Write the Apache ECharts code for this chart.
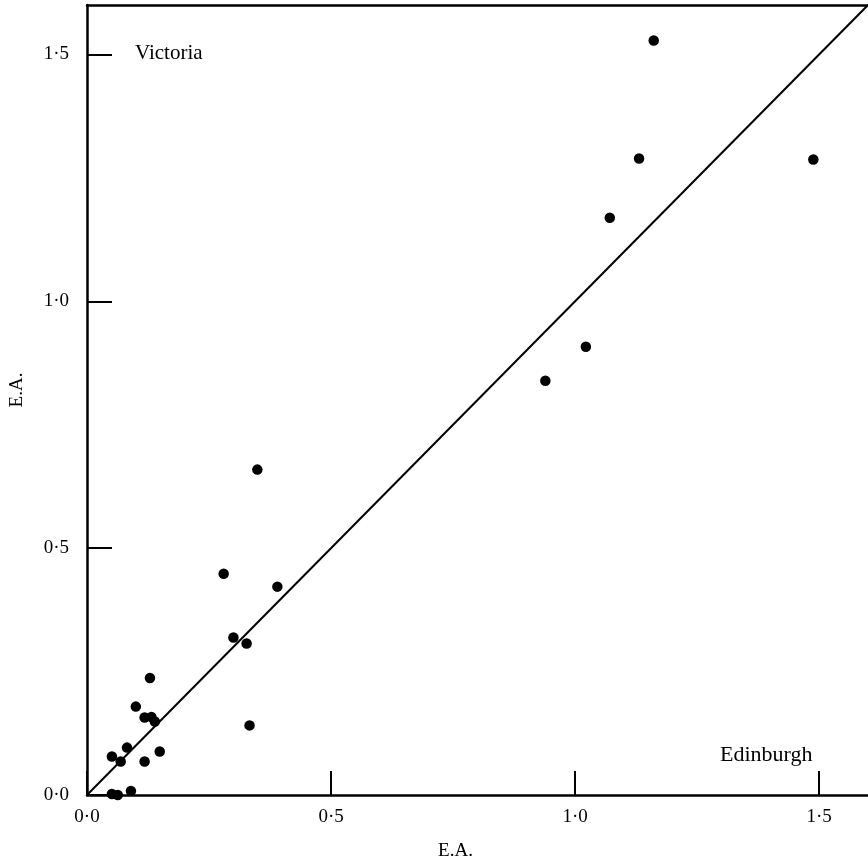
<!DOCTYPE html>
<html><head><meta charset="utf-8">
<script src="https://cdn.jsdelivr.net/npm/echarts@6/dist/echarts.min.js"></script>
<style>html,body{margin:0;padding:0;background:#fff}#c{width:868px;height:866px}</style>
</head><body><div id="c"></div>
<script>
// Edinburgh E.A. (x) vs Victoria E.A. (y)
const edinburghEA = [1.161, 1.131, 1.488, 1.071, 1.022, 0.939, 0.349, 0.280, 0.390, 0.300, 0.327, 0.333, 0.129, 0.100, 0.118, 0.132, 0.139, 0.082, 0.051, 0.069, 0.149, 0.118, 0.051, 0.063, 0.090];
const victoriaEA  = [1.528, 1.289, 1.287, 1.169, 0.908, 0.839, 0.659, 0.448, 0.422, 0.319, 0.307, 0.141, 0.237, 0.179, 0.157, 0.158, 0.149, 0.096, 0.078, 0.068, 0.088, 0.068, 0.002, 0.000, 0.008];
const tickValues = [0, 0.5, 1.0, 1.5];
const axisMax = 1.6;
const identityLine = [[0, 0], [1.6, 1.6]];

const fmt = v => v.toFixed(1).replace('.', '\u00B7');
const font = 'Liberation Serif';
const points = edinburghEA.map((x, i) => [x, victoriaEA[i]]);

const chart = echarts.init(document.getElementById('c'));
chart.setOption({
  animation: false,
  backgroundColor: '#fff',
  grid: { left: 85, top: 5, width: 786, height: 798, show: false },
  xAxis: [{
    type: 'value', min: 0, max: axisMax, interval: 0.5,
    name: 'E.A.', nameLocation: 'middle', nameGap: 47,
    nameTextStyle: { fontFamily: font, fontSize: 19, color: '#000', padding: [0, 44, 0, 0] },
    axisLine: { show: true, lineStyle: { color: '#000', width: 2.5 } },
    axisTick: { show: true, inside: true, length: 24, customValues: tickValues, lineStyle: { color: '#000', width: 2 } },
    axisLabel: { customValues: tickValues, formatter: fmt, fontFamily: font, fontSize: 19, color: '#000', margin: 13 },
    splitLine: { show: false }
  }, {
    type: 'value', position: 'top', min: 0, max: axisMax,
    axisLine: { show: true, lineStyle: { color: '#000', width: 2.5 } },
    axisTick: { show: false }, axisLabel: { show: false }, splitLine: { show: false }
  }],
  yAxis: {
    type: 'value', min: 0, max: axisMax, interval: 0.5,
    name: 'E.A.', nameLocation: 'middle', nameGap: 60,
    nameTextStyle: { fontFamily: font, fontSize: 19, color: '#000', padding: [0, 0, 0, 20] },
    axisLine: { show: true, lineStyle: { color: '#000', width: 2.5 } },
    axisTick: { show: true, inside: true, length: 25, customValues: tickValues, lineStyle: { color: '#000', width: 2 } },
    axisLabel: { customValues: tickValues, formatter: fmt, fontFamily: font, fontSize: 19, color: '#000', margin: 18 },
    splitLine: { show: false }
  },
  series: [
    { type: 'line', data: identityLine, symbol: 'none', lineStyle: { color: '#000', width: 2 }, silent: true },
    { type: 'scatter', data: points, symbolSize: 10.5, itemStyle: { color: '#000', opacity: 1 } }
  ],
  graphic: [
    { type: 'text', left: 135, top: 43, style: { text: 'Victoria', font: '21px "Liberation Serif"', fill: '#000' } },
    { type: 'text', left: 720, top: 744, style: { text: 'Edinburgh', font: '22px "Liberation Serif"', fill: '#000' } }
  ]
});
</script></body></html>
